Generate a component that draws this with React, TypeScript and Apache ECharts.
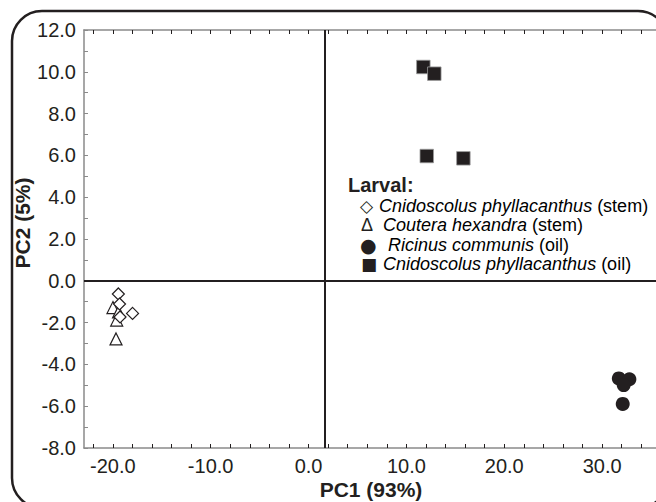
import React, { useEffect, useRef } from "react";
import * as echarts from "echarts";

// ---- data (PC1, PC2) ----
const stemCnidoscolus: [number, number][] = [
  [-19.43, -0.63],
  [-17.98, -1.56],
  [-19.31, -1.11],
  [-19.26, -1.73],
];
const stemCoutera: [number, number][] = [
  [-19.98, -1.28],
  [-19.6, -1.88],
  [-19.67, -2.78],
  [-19.41, -1.49],
];
const oilRicinus: [number, number][] = [
  [31.7, -4.67],
  [32.78, -4.71],
  [32.2, -4.99],
  [32.1, -5.89],
];
const oilCnidoscolus: [number, number][] = [
  [11.73, 10.23],
  [12.85, 9.91],
  [12.08, 5.97],
  [15.82, 5.86],
];

const xTickLabels = [-20, -10, 0, 10, 20, 30];
const xMinorTicks = [-22, -20, -18, -16, -14, -12, -10, -8, -6, -4, -2, 0, 2, 4, 6, 8, 10, 12, 14, 16, 18, 20, 22, 24, 26, 28, 30, 32, 34];
const centerX = 1.7;
const centerY = 0;

const legendTitle = "Larval:";
const legendSymbols = ["◇", "Δ", "●", "■"];
const legendSpecies = [
  "Cnidoscolus phyllacanthus",
  "Coutera hexandra",
  "Ricinus communis",
  "Cnidoscolus phyllacanthus",
];
const legendTissue = [" (stem)", " (stem)", " (oil)", " (oil)"];

const xAxisName = "PC1 (93%)";
const yAxisName = "PC2 (5%)";

const INK = "#231f20";
const AXIS = "#8a8a8a";
const FONT = "'Liberation Sans', Arial, Helvetica, sans-serif";

export default function App() {
  const ref = useRef<HTMLDivElement>(null);

  useEffect(() => {
    if (!ref.current) return;
    const chart = echarts.init(ref.current, undefined, { renderer: "svg" });

    const legendX = [
      { s: 360, t: 379 },
      { s: 361, t: 383 },
      { s: 360, t: 388 },
      { s: 361, t: 383 },
    ];
    const legendY = [206, 225, 245, 264];
    const symbolFonts = [
      `17px 'DejaVu Sans', ${FONT}`,
      `18px ${FONT}`,
      `19px 'DejaVu Sans', ${FONT}`,
      `17px 'DejaVu Sans', ${FONT}`,
    ];

    const legendGraphics: any[] = [];
    legendGraphics.push({
      type: "text",
      x: 348,
      y: 185,
      style: {
        text: legendTitle,
        font: `bold 20px ${FONT}`,
        fill: INK,
        verticalAlign: "middle",
      },
    });
    legendSymbols.forEach((sym, i) => {
      legendGraphics.push({
        type: "text",
        x: legendX[i].s,
        y: legendY[i],
        style: {
          text: sym,
          font: symbolFonts[i],
          fill: INK,
          verticalAlign: "middle",
        },
      });
      legendGraphics.push({
        type: "text",
        x: legendX[i].t,
        y: legendY[i],
        style: {
          text: `{i|${legendSpecies[i]}}{n|${legendTissue[i]}}`,
          verticalAlign: "middle",
          rich: {
            i: { fontFamily: FONT, fontSize: 18, fontStyle: "italic", color: INK },
            n: { fontFamily: FONT, fontSize: 18, color: INK },
          },
        },
      });
    });

    const xAxisCommon = {
      type: "value",
      min: -22.94,
      max: 35.5,
      axisLine: { show: true, onZero: false, lineStyle: { color: AXIS, width: 1.5 } },
      axisTick: {
        show: true,
        inside: true,
        length: 4,
        customValues: xMinorTicks,
        lineStyle: { color: INK, width: 1 },
      },
      splitLine: { show: false },
    };

    const option: any = {
      animation: false,
      backgroundColor: "#ffffff",
      grid: { left: 84, top: 30, right: 0, bottom: 54, containLabel: false },
      xAxis: [
        {
          ...xAxisCommon,
          position: "bottom",
          axisLabel: {
            customValues: xTickLabels,
            formatter: (v: number) => v.toFixed(1),
            fontFamily: FONT,
            fontSize: 20,
            color: INK,
            margin: 8,
          },
        },
        {
          ...xAxisCommon,
          position: "top",
          axisLabel: { show: false },
        },
      ],
      yAxis: {
        type: "value",
        min: -8,
        max: 12,
        interval: 2,
        axisLine: { show: true, onZero: false, lineStyle: { color: AXIS, width: 1.5 } },
        axisTick: { show: true, inside: true, length: 4, lineStyle: { color: AXIS } },
        minorTick: { show: true, splitNumber: 2, length: 4, lineStyle: { color: AXIS } },
        axisLabel: {
          formatter: (v: number) => v.toFixed(1),
          fontFamily: FONT,
          fontSize: 20,
          color: INK,
          margin: 8,
        },
        splitLine: { show: false },
      },
      series: [
        {
          type: "scatter",
          name: "Coutera hexandra (stem)",
          data: stemCoutera,
          symbol: "triangle",
          symbolSize: [12, 12],
          itemStyle: { color: "#ffffff", borderColor: INK, borderWidth: 1.2, opacity: 1 },
          markLine: {
            silent: true,
            symbol: "none",
            label: { show: false },
            lineStyle: { color: INK, width: 2, type: "solid", opacity: 1 },
            data: [{ xAxis: centerX }, { yAxis: centerY }],
          },
          z: 3,
        },
        {
          type: "scatter",
          name: "Cnidoscolus phyllacanthus (stem)",
          data: stemCnidoscolus,
          symbol: "diamond",
          symbolSize: [12, 12],
          itemStyle: { color: "#ffffff", borderColor: INK, borderWidth: 1.2, opacity: 1 },
          z: 4,
        },
        {
          type: "scatter",
          name: "Ricinus communis (oil)",
          data: oilRicinus,
          symbol: "circle",
          symbolSize: 14,
          itemStyle: { color: INK, opacity: 1 },
          z: 4,
        },
        {
          type: "scatter",
          name: "Cnidoscolus phyllacanthus (oil)",
          data: oilCnidoscolus,
          symbol: "rect",
          symbolSize: 13.5,
          itemStyle: { color: INK, borderColor: "#9a9a9a", borderWidth: 0.8, opacity: 1 },
          z: 4,
        },
      ],
      graphic: [
        {
          type: "rect",
          shape: { x: 12, y: 11, width: 656, height: 497, r: 30 },
          style: { fill: "none", stroke: INK, lineWidth: 2.5 },
          z: 100,
          silent: true,
        },
        {
          type: "text",
          x: 371,
          y: 489,
          style: {
            text: xAxisName,
            font: `bold 21px ${FONT}`,
            fill: INK,
            align: "center",
            verticalAlign: "middle",
          },
        },
        {
          type: "text",
          x: 22,
          y: 223,
          rotation: Math.PI / 2,
          style: {
            text: yAxisName,
            font: `bold 21px ${FONT}`,
            fill: INK,
            align: "center",
            verticalAlign: "middle",
          },
        },
        ...legendGraphics,
      ],
    };

    chart.setOption(option);
    return () => chart.dispose();
  }, []);

  return (
    <div
      ref={ref}
      style={{ position: "fixed", left: 0, top: 0, width: 656, height: 502, background: "#fff" }}
    />
  );
}
